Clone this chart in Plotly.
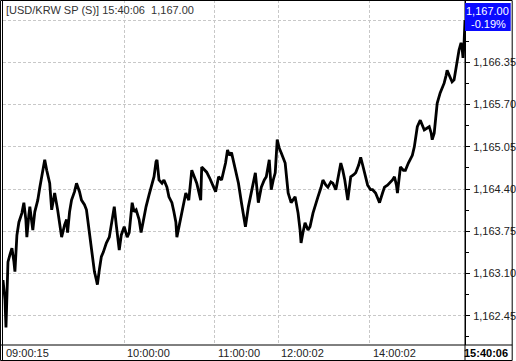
import plotly.graph_objects as go

# ---- data (tick index vs price) ----
tick_index = [0, 2, 3, 4, 5, 7, 9, 11, 12, 14, 16, 19, 21, 23, 24, 26, 27, 29, 30, 32,
              35, 37, 39, 41, 42, 44, 47, 49, 51, 52, 55, 57, 59, 62, 64, 65, 67, 69, 72, 74,
              77, 79, 82, 84, 86, 87, 89, 90, 92, 94, 95, 97, 99, 101, 104, 107, 109, 112, 114, 117,
              119, 122, 125, 127, 130, 132, 134, 137, 139, 142, 144, 147, 150, 152, 154, 155, 157, 160, 162, 165,
              167, 170, 172, 174, 175, 177, 179, 182, 184, 187, 190, 193, 195, 197, 199, 200, 203, 205, 208, 210,
              212, 214, 217, 220, 222, 224, 226, 228, 230, 232, 234, 237, 240, 242, 244, 247, 250, 252, 254, 257,
              260, 263, 265, 268, 270, 272, 274, 276, 278, 280, 282, 284, 287, 290, 294, 297, 299, 300, 302, 304,
              307, 309, 312, 315, 317, 320, 322, 325, 327, 330, 332, 335, 337, 340, 342, 344, 347, 350, 353, 355,
              358, 360, 362, 365, 367, 370, 372, 375, 377, 379, 382, 384, 387, 389, 392, 394, 396, 397, 400, 403,
              405, 408, 410, 412, 414, 416, 417, 420, 422, 424, 427, 429, 431, 432, 434, 436, 437, 440, 442, 444,
              446, 447, 450, 452, 454, 456, 458, 459, 461, 462, 463, 464, 465]
price = [1163.00, 1162.70, 1162.27, 1162.85, 1163.28, 1163.39, 1163.49, 1163.28, 1163.13, 1163.69,
         1163.89, 1164.03, 1164.19, 1163.93, 1163.66, 1164.00, 1164.13, 1163.89, 1163.77, 1164.05,
         1164.23, 1164.42, 1164.59, 1164.77, 1164.85, 1164.69, 1164.49, 1164.08, 1164.26, 1164.34,
         1164.08, 1163.88, 1163.66, 1163.85, 1163.93, 1163.73, 1164.05, 1164.23, 1164.36, 1164.49,
         1164.36, 1164.23, 1164.16, 1164.08, 1163.85, 1163.73, 1163.46, 1163.31, 1163.13, 1163.00,
         1162.93, 1163.16, 1163.36, 1163.43, 1163.57, 1163.66, 1163.85, 1164.13, 1163.85, 1163.46,
         1163.69, 1163.82, 1163.66, 1163.73, 1164.19, 1164.05, 1164.08, 1163.93, 1163.73, 1164.00,
         1164.13, 1164.31, 1164.46, 1164.59, 1164.82, 1164.85, 1164.54, 1164.49, 1164.54, 1164.43,
         1164.28, 1164.19, 1164.05, 1163.89, 1163.66, 1163.80, 1163.97, 1164.16, 1164.34, 1164.23,
         1164.69, 1164.57, 1164.49, 1164.36, 1164.23, 1164.74, 1164.69, 1164.66, 1164.57, 1164.51,
         1164.43, 1164.36, 1164.59, 1164.54, 1164.66, 1164.80, 1165.00, 1164.92, 1164.96, 1164.82,
         1164.69, 1164.49, 1164.19, 1164.00, 1163.82, 1164.13, 1164.36, 1164.49, 1164.65, 1164.19,
         1164.43, 1164.54, 1164.59, 1164.85, 1164.39, 1164.54, 1164.65, 1165.16, 1165.03, 1164.96,
         1164.88, 1164.80, 1164.34, 1164.19, 1164.28, 1164.03, 1163.77, 1163.57, 1163.74, 1163.88,
         1163.77, 1163.82, 1164.03, 1164.16, 1164.28, 1164.42, 1164.54, 1164.46, 1164.43, 1164.51,
         1164.49, 1164.39, 1164.57, 1164.80, 1164.69, 1164.54, 1164.23, 1164.59, 1164.62, 1164.65,
         1164.77, 1164.89, 1164.77, 1164.59, 1164.46, 1164.39, 1164.39, 1164.34, 1164.26, 1164.19,
         1164.34, 1164.43, 1164.46, 1164.49, 1164.54, 1164.59, 1164.46, 1164.34, 1164.74, 1164.69,
         1164.69, 1164.80, 1164.85, 1164.92, 1165.05, 1165.23, 1165.36, 1165.46, 1165.39, 1165.31,
         1165.34, 1165.36, 1165.26, 1165.16, 1165.26, 1165.59, 1165.72, 1165.88, 1165.95, 1166.03,
         1166.15, 1166.23, 1166.12, 1166.05, 1166.08, 1166.28, 1166.46, 1166.54, 1166.65, 1166.58,
         1166.42, 1166.62, 1167.00]

y_ticks = [1162.45, 1163.10, 1163.75, 1164.40, 1165.05, 1165.70, 1166.35, 1167.00]
y_tick_labels = ["1,162.45", "1,163.10", "1,163.75", "1,164.40", "1,165.05", "1,165.70", "1,166.35", ""]
y_minor = [1162.125, 1162.775, 1163.425, 1164.075, 1164.725, 1165.375, 1166.025, 1166.675]
x_ticks = [0, 122, 213, 277, 369]
x_tick_labels = ["09:00:15", "10:00:00", "11:00:00", "12:00:02", "14:00:02"]
last_time = "15:40:06"
last_price = "1,167.00"
last_change = "-0.19%"
title_text = "[USD/KRW SP (S)] 15:40:06  1,167.00"

FONT = "Liberation Sans, Arial, sans-serif"
W, H = 516, 361
L, R, T, B = 3, 48, 0, 16
PW, PH = W - L - R, H - T - B


def px(x):
    return (x - L) / PW


def py(y):
    return (H - B - y) / PH


fig = go.Figure()
fig.add_trace(go.Scatter(x=tick_index, y=price, mode="lines",
                         line=dict(color="black", width=2.8), hoverinfo="skip"))

grid = dict(showgrid=True, gridcolor="#c8c8c8", griddash="3px,2px", gridwidth=1)

fig.update_layout(
    width=W, height=H, margin=dict(l=L, r=R, t=T, b=B),
    paper_bgcolor="white", plot_bgcolor="white", showlegend=False,
    xaxis=dict(range=[0, 465], tickmode="array", tickvals=x_ticks[1:],
               showticklabels=False, ticks="", zeroline=False, showline=False, **grid),
    yaxis=dict(range=[1162.0, 1167.31], side="right", tickmode="array",
               tickvals=y_ticks, ticktext=y_tick_labels, ticks="outside", ticklen=4,
               tickcolor="black", showline=True, linecolor="black", linewidth=1,
               zeroline=False, ticklabelstandoff=1,
               tickfont=dict(family=FONT, size=11, color="#222"),
               minor=dict(tickvals=y_minor, ticks="outside", ticklen=3, tickcolor="black",
                          showgrid=False),
               **grid),
    font=dict(family=FONT, size=11),
)

shapes = [
    # outer frame
    dict(type="rect", xref="paper", yref="paper", x0=px(0.5), x1=px(515.5), y0=py(360.5), y1=py(0.5),
         line=dict(color="black", width=1)),
    # inner left border
    dict(type="line", xref="paper", yref="paper", x0=px(2.5), x1=px(2.5), y0=py(360.5), y1=py(0.5),
         line=dict(color="black", width=1)),
    # bottom axis row line
    dict(type="line", xref="paper", yref="paper", x0=px(0.5), x1=px(515.5), y0=py(345), y1=py(345),
         line=dict(color="black", width=1)),
    # right column divider
    dict(type="line", xref="paper", yref="paper", x0=px(468), x1=px(468), y0=py(360.5), y1=py(0.5),
         line=dict(color="black", width=1)),
    # blue last-price box
    dict(type="rect", xref="paper", yref="paper", x0=px(468), x1=px(514), y0=py(31), y1=py(3),
         fillcolor="#0a0aff", line=dict(width=0), layer="above"),
]
fig.update_layout(shapes=shapes)

ann = [dict(text=title_text, x=px(4), y=py(10), xref="paper", yref="paper",
            xanchor="left", yanchor="middle", showarrow=False,
            font=dict(family=FONT, size=11, color="#333"))]
for xv, lab in zip(x_ticks, x_tick_labels):
    ann.append(dict(text=lab, x=xv, y=py(352.5), xref="x", yref="paper",
                    xanchor="left", yanchor="middle", showarrow=False, xshift=1,
                    font=dict(family=FONT, size=11, color="#222")))
ann.append(dict(text="<b>" + last_time + "</b>", x=px(513), y=py(352.5), xref="paper", yref="paper",
                xanchor="right", yanchor="middle", showarrow=False,
                font=dict(family=FONT, size=11, color="black")))
ann.append(dict(text=last_price, x=px(514), y=py(11), xref="paper", yref="paper",
                xanchor="right", yanchor="middle", showarrow=False,
                font=dict(family=FONT, size=11, color="white")))
ann.append(dict(text=last_change, x=px(511), y=py(24), xref="paper", yref="paper",
                xanchor="right", yanchor="middle", showarrow=False,
                font=dict(family=FONT, size=11, color="white")))
fig.update_layout(annotations=ann)

fig.write_html("out.html", config={"displayModeBar": False})
